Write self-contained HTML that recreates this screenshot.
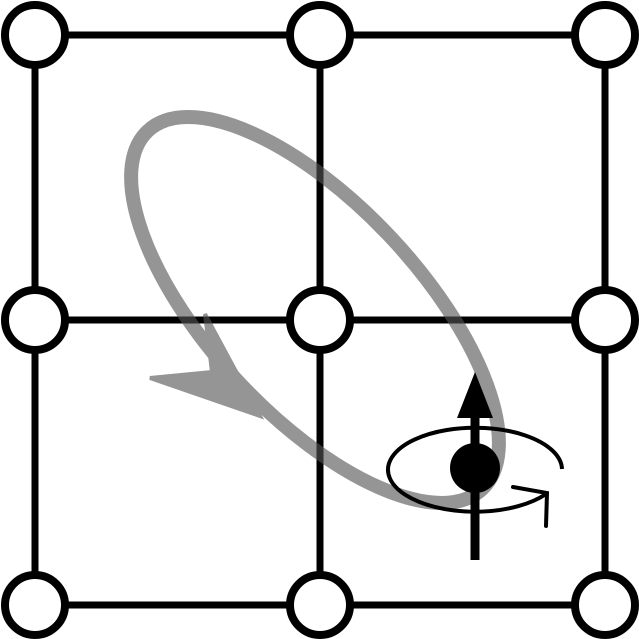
<!DOCTYPE html>
<html><head><style>html,body{margin:0;padding:0;background:#fff}svg{display:block}</style></head>
<body>
<svg width="639" height="639" viewBox="0 0 639 639" xmlns="http://www.w3.org/2000/svg">
<g stroke="#000" stroke-width="7" fill="none">
<line x1="35" y1="35" x2="605" y2="35"/>
<line x1="35" y1="320" x2="605" y2="320"/>
<line x1="35" y1="605" x2="605" y2="605"/>
<line x1="35" y1="35" x2="35" y2="605"/>
<line x1="320" y1="35" x2="320" y2="605"/>
<line x1="605" y1="35" x2="605" y2="605"/>
</g>
<g stroke="#000" stroke-width="8" fill="#fff">
<circle cx="35" cy="35" r="30"/><circle cx="320" cy="35" r="30"/><circle cx="605" cy="35" r="30"/>
<circle cx="35" cy="320" r="30"/><circle cx="320" cy="320" r="30"/><circle cx="605" cy="320" r="30"/>
<circle cx="35" cy="605" r="30"/><circle cx="320" cy="605" r="30"/><circle cx="605" cy="605" r="30"/>
</g>
<g opacity="0.62">
<ellipse cx="315" cy="310" rx="245" ry="105" transform="rotate(47 315 310)" fill="none" stroke="#555" stroke-width="14"/>
<polygon points="205,314 260,416 150,378 212,372" fill="#555" stroke="#555" stroke-width="4" stroke-linejoin="miter"/>
</g>
<line x1="475" y1="410" x2="475" y2="560" stroke="#000" stroke-width="9"/>
<polygon points="475,372 493,418 457,418" fill="#000"/>
<path d="M562,469 A87,42 0 1 0 546,494" fill="none" stroke="#000" stroke-width="4"/>
<polyline points="513,487 547,493 546,526" fill="none" stroke="#000" stroke-width="4" stroke-linecap="round"/>
<circle cx="475" cy="468" r="25" fill="#000"/>
</svg>
</body></html>
